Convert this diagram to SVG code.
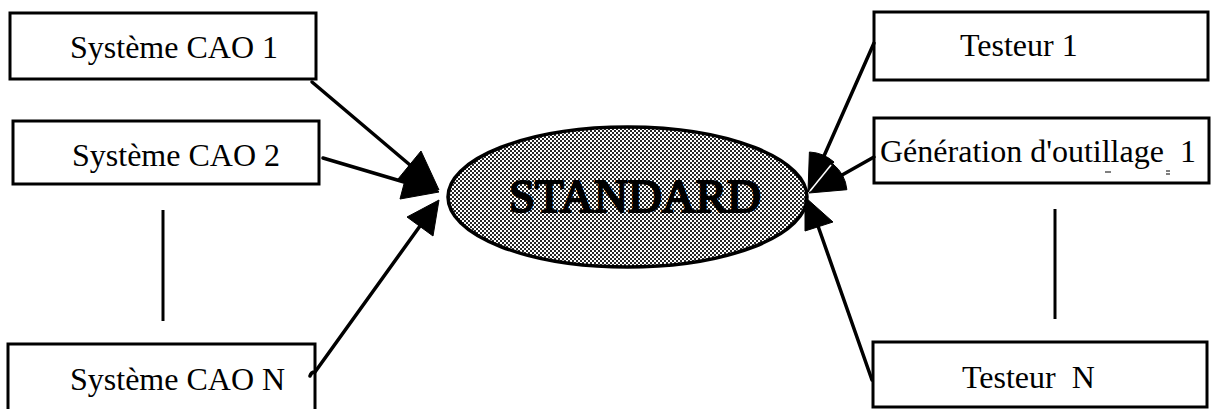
<svg xmlns="http://www.w3.org/2000/svg" width="1211" height="409" viewBox="0 0 1211 409">
  <style>
    .box { fill: #ffffff; stroke: #000000; stroke-width: 3; }
    .lbl { font-family: "Liberation Serif", "Times New Roman", serif; font-size: 32px; fill: #000000; white-space: pre; }
    .conn { stroke: #000000; stroke-width: 3.5; fill: none; stroke-linecap: round; }
    .head { fill: #000000; stroke: #000000; stroke-width: 1; stroke-linejoin: round; }
    .div { stroke: #000000; stroke-width: 3; }
  </style>
  <defs>
    <pattern id="dots" width="4" height="4" patternUnits="userSpaceOnUse">
      <rect width="4" height="4" fill="#ffffff"/>
      <rect x="0" y="0" width="2" height="2" fill="#000000" opacity="0.85"/>
      <rect x="2" y="2" width="2" height="2" fill="#000000" opacity="0.85"/>
    </pattern>
  </defs>
  <rect width="1211" height="409" fill="#ffffff"/>

  <g id="node-cao1">
    <rect class="box" x="10" y="13" width="306" height="66"/>
    <text class="lbl" x="70" y="58">Système CAO 1</text>
  </g>
  <g id="node-cao2">
    <rect class="box" x="13" y="121" width="306" height="63"/>
    <text class="lbl" x="72" y="166">Système CAO 2</text>
  </g>
  <g id="node-caoN">
    <rect class="box" x="8" y="344" width="307" height="75"/>
    <text class="lbl" x="70" y="390">Système CAO N</text>
  </g>
  <g id="node-standard">
    <ellipse cx="627.5" cy="197" rx="179.5" ry="70" fill="url(#dots)" stroke="#000000" stroke-width="3.5"/>
    <text x="635" y="212" text-anchor="middle" font-family="'Liberation Serif', 'Times New Roman', serif" font-size="47" fill="#000000" stroke="#000000" stroke-width="2.2" stroke-linejoin="round">STANDARD</text>
  </g>
  <g id="node-testeur1">
    <rect class="box" x="874" y="12" width="334" height="68"/>
    <text class="lbl" x="960" y="56">Testeur 1</text>
  </g>
  <g id="node-generation">
    <rect class="box" x="874" y="118" width="335" height="65"/>
    <text class="lbl" x="880" y="162">Génération d'outillage  1</text>
    <line x1="1105" y1="172" x2="1111" y2="172" stroke="#000000" stroke-width="1"/>
    <line x1="1166" y1="171" x2="1170" y2="171" stroke="#000000" stroke-width="1"/>
    <line x1="1166" y1="174" x2="1170" y2="174" stroke="#000000" stroke-width="1"/>
  </g>
  <g id="node-testeurN">
    <rect class="box" x="873" y="342" width="334" height="65"/>
    <text class="lbl" x="962" y="388">Testeur  N</text>
  </g>

  <g id="connectors">
    <line class="div" x1="163" y1="210" x2="163" y2="321"/>
    <line class="div" x1="1055" y1="209" x2="1055" y2="319"/>

    <line class="conn" x1="312" y1="82" x2="410" y2="165"/>
    <polygon class="head" points="439,190 398,179 421,151"/>
    <line class="conn" x1="323" y1="158" x2="404" y2="182"/>
    <polygon class="head" points="439,192 400,199 409,165"/>
    <path class="conn" d="M310,376 Q311,372 315,372 L420,226"/>
    <polygon class="head" points="439,200 433,236 407,217"/>

    <line class="conn" x1="874" y1="43" x2="820" y2="165"/>
    <path class="head" d="M808,192 L809.4,152 A40,40 0 0 1 834,162 Z"/>
    <line class="conn" x1="874" y1="157" x2="835" y2="179"/>
    <path class="head" d="M809,193 L833,164 A38,38 0 0 1 846.9,189.7 Z"/>
    <line x1="810" y1="191" x2="831" y2="165" stroke="#ffffff" stroke-width="1.5"/>
    <line class="conn" x1="872" y1="380" x2="818" y2="226"/>
    <polygon class="head" points="805,197 805,231 833,222"/>
  </g>
</svg>
